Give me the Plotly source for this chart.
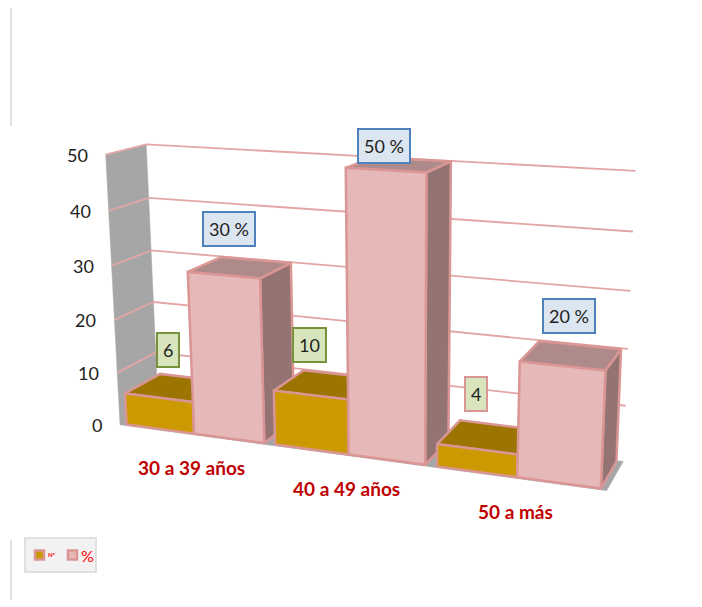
import numpy as np
import plotly.graph_objects as go

categories = ["30 a 39 años", "40 a 49 años", "50 a más"]
n_values = [6, 10, 4]
pct_values = [30, 50, 20]
z_ticks = [0, 10, 20, 30, 40, 50]
series_names = ["Nº", "%"]

# camera calibration: (category position, depth, value) -> pixel
CAL = [((0, 0, 0), (120, 425)), ((3, 0, 0), (608, 491)),
       ((0, 1, 0), (158, 402)), ((3, 1, 0), (622, 461)),
       ((0, 0, 50), (106, 155)), ((3, 0, 50), (617, 183)),
       ((0, 1, 50), (146, 144)), ((3, 1, 50), (637, 172))]
A = []
for (u, v, z), (px, py) in CAL:
    A.append([u, v, z, 1, 0, 0, 0, 0, -px*u, -px*v, -px*z, -px])
    A.append([0, 0, 0, 0, u, v, z, 1, -py*u, -py*v, -py*z, -py])
M = np.linalg.svd(np.array(A, float))[2][-1].reshape(3, 4)


def proj(u, v, z):
    a, b, c = M @ np.array([u, v, z, 1.0])
    return a / c, b / c


BORDER = "#D99694"
GRID = "#E2A6A5"
WALL = "#A6A6A6"
AMBER, AMBER_TOP = "#CC9900", "#9C7500"
PINK, PINK_TOP, PINK_SIDE = "#E6B8B7", "#AE8B8A", "#937473"
FONT = "Lato"
GAP = 0.07
V0, V1 = 0.04, 0.96
# label nudges in pixels, per bar
N_NUDGE = [(-5, -37), (-13, -39), (-9, -42)]
P_NUDGE = [(-14, -39), (-18, -19), (-5, -40)]

fig = go.Figure()


def poly(pts, fill, line=BORDER, width=2.5):
    xy = [proj(*p) for p in pts] + [proj(*pts[0])]
    fig.add_trace(go.Scatter(x=[q[0] for q in xy], y=[q[1] for q in xy], mode="lines",
                             fill="toself", fillcolor=fill, showlegend=False, hoverinfo="skip",
                             line=dict(color=line, width=width)))


def path(pts, color=GRID, width=1.8):
    xy = [proj(*p) for p in pts]
    fig.add_trace(go.Scatter(x=[q[0] for q in xy], y=[q[1] for q in xy], mode="lines",
                             showlegend=False, hoverinfo="skip", line=dict(color=color, width=width)))


zmax = z_ticks[-1]
poly([(0, 0, 0), (0, 1, 0), (0, 1, zmax), (0, 0, zmax)], WALL, line=WALL, width=0.5)
poly([(0, 0, 0), (3, 0, 0), (3, 1, 0), (0, 1, 0)], WALL, line=WALL, width=0.5)
for t in z_ticks[1:]:
    path([(0, 0, t), (0, 1, t), (3, 1, t)])


def bar(u0, u1, val, front, top, side):
    poly([(u1, V0, 0), (u1, V1, 0), (u1, V1, val), (u1, V0, val)], side)
    poly([(u0, V0, val), (u1, V0, val), (u1, V1, val), (u0, V1, val)], top)
    poly([(u0, V0, 0), (u1, V0, 0), (u1, V0, val), (u0, V0, val)], front)


def label(x, y, text, bg, edge):
    fig.add_annotation(x=x, y=y, text=text, showarrow=False, xref="x", yref="y",
                       font=dict(family=FONT, size=18, color="#222222"),
                       bgcolor=bg, bordercolor=edge, borderwidth=2, borderpad=5)


for i, cat in enumerate(categories):
    bar(i + GAP/2, i + .5, n_values[i], AMBER, AMBER_TOP, AMBER_TOP)
    bar(i + .5, i + 1 - GAP/2, pct_values[i], PINK, PINK_TOP, PINK_SIDE)

for i, cat in enumerate(categories):
    x, y = proj(i + .25, .5, n_values[i])
    edge = BORDER if i == 2 else "#76923C"
    label(x + N_NUDGE[i][0], y + N_NUDGE[i][1], str(n_values[i]), "#D8E4BC", edge)
    x, y = proj(i + .75, .5, pct_values[i])
    label(x + P_NUDGE[i][0], y + P_NUDGE[i][1], f"{pct_values[i]} %", "#DCE6F1", "#4F81BD")
    x, y = proj(i + .5, 0, 0)
    fig.add_annotation(x=x - 1, y=y + 33, text=f"<b>{cat}</b>", showarrow=False, xref="x", yref="y",
                       font=dict(family=FONT, size=19, color="#C00000"))

for t in z_ticks:
    x, y = proj(0, 0, t)
    fig.add_annotation(x=x - 16, y=y, text=str(t), showarrow=False, xref="x", yref="y", xanchor="right",
                       font=dict(family=FONT, size=18, color="#222222"))

# legend keys
fig.add_trace(go.Scatter(x=[39.5, 72.5], y=[555, 555], mode="markers", hoverinfo="skip", showlegend=False,
                         marker=dict(symbol="square", size=9, color=[AMBER, PINK], line=dict(color=BORDER, width=2.5))))
fig.add_annotation(x=52, y=554, text=f"<b>{series_names[0]}</b>", showarrow=False, xref="x", yref="y",
                   font=dict(family=FONT, size=6, color="#FF0000"))
fig.add_annotation(x=87, y=555, text=series_names[1], showarrow=False, xref="x", yref="y",
                   font=dict(family=FONT, size=16, color="#FF0000"))

# the page puts the plot at (8, 8), so axis ranges start there to keep pixel coordinates
fig.update_layout(
    width=702, height=607, margin=dict(l=0, r=0, t=0, b=0), plot_bgcolor="white", paper_bgcolor="white",
    showlegend=False,
    xaxis=dict(range=[8, 710], visible=False, fixedrange=True),
    yaxis=dict(range=[615, 8], visible=False, fixedrange=True),
    shapes=[dict(type="line", xref="x", yref="y", x0=11, x1=11, y0=8, y1=126, line=dict(color="#E0E0E0", width=2)),
            dict(type="line", xref="x", yref="y", x0=11, x1=11, y0=540, y1=600, line=dict(color="#E0E0E0", width=2)),
            dict(type="rect", xref="x", yref="y", x0=25, x1=96, y0=538, y1=572, layer="below",
                 fillcolor="#F2F2F2", line=dict(color="#E0E0E0", width=2))],
)
fig.write_html("out.html")
